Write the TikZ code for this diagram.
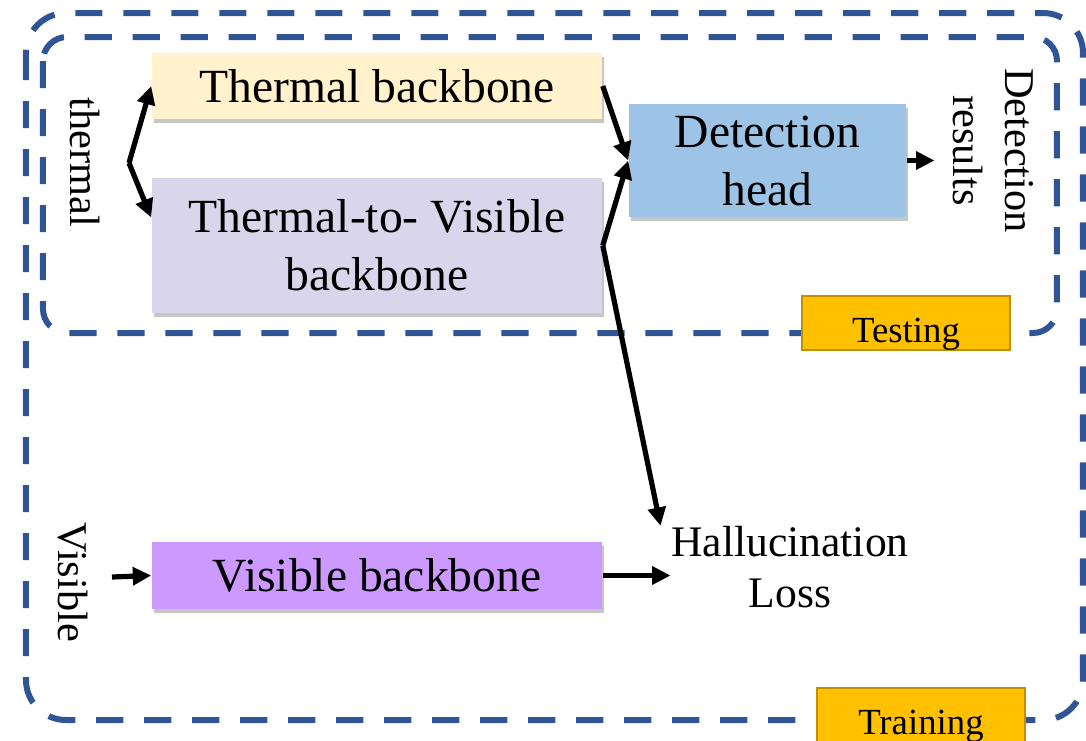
\documentclass[tikz,border=0pt]{standalone}
\usepackage{fontspec}
\setmainfont{Liberation Serif}
\usepackage{xcolor}
\usetikzlibrary{arrows.meta,positioning,shadows}

\definecolor{dashblue}{HTML}{2F5597}
\definecolor{thermalcol}{HTML}{FFF2CC}
\definecolor{transcol}{HTML}{D9D5EA}
\definecolor{headcol}{HTML}{9DC3E6}
\definecolor{visiblecol}{HTML}{CC99FF}
\definecolor{tagcol}{HTML}{FFC000}
\definecolor{tagborder}{HTML}{BF9000}

\begin{document}
\begin{tikzpicture}[x=0.25pt, y=-0.25pt,
    box/.style={rectangle, minimum width=112.5pt, inner sep=0pt, align=center, font=\fontsize{11.9}{14.5}\selectfont, drop shadow={shadow xshift=0.6pt, shadow yshift=-1pt, opacity=0.45}},
    side/.style={rotate=-90, align=center, inner sep=0pt, font=\fontsize{10.6}{13}\selectfont},
    tag/.style={rectangle, draw=tagborder, line width=0.5pt, fill=tagcol, minimum width=52pt, minimum height=13.5pt, text height=9.5pt, text depth=0pt, inner sep=0pt, font=\fontsize{9.2}{11}\selectfont},
    frame/.style={draw=dashblue, line width=1.5pt, dash pattern=on 6.8pt off 5.2pt},
    arr/.style={-{Triangle[length=4.6pt, width=4.4pt]}, line width=1.3pt}
]
\useasboundingbox (0,0) rectangle (1086,741);

\draw[frame, rounded corners=10pt] (26,13) rectangle (1083,720);
\draw[frame, rounded corners=6pt] (43,37) rectangle (1057,333);

\node[box, fill=thermalcol, minimum height=16.5pt] (tb) at (377,86) {Thermal backbone};
\node[box, fill=transcol, minimum height=33.75pt] (tv) at (377,245.5) {Thermal-to- Visible\\backbone};
\node[box, fill=headcol, minimum width=69.25pt, minimum height=28.25pt] (dh) at (767.5,160.5) {Detection\\head};
\node[box, fill=visiblecol, minimum height=16.75pt] (vb) at (377,575.5) {Visible backbone};
\node[align=center, inner sep=0pt, font=\fontsize{10.9}{12.75}\selectfont] (loss) at (790,567.5) {Hallucination\\Loss};
\node[side] (thermal) at (85,162) {thermal};
\node[side] (visible) at (73,582) {Visible};
\node[side] (results) at (993.5,150.5) {Detection\\results};
\node[tag] (testing) at (906,323) {Testing};
\node[tag] (training) at (921,715) {Training};

\coordinate (split) at (129,163);
\coordinate (vin) at (112,577);

\draw[arr] (split) -- (tb.west);
\draw[arr] (split) -- ([yshift=7pt]tv.west);
\draw[arr] (tb.east) -- (dh.west);
\draw[arr] (tv.east) -- (dh.west);
\draw[arr] (tv.east) -- ([xshift=-2.5pt]loss.north west);
\draw[arr, shorten >=4.5pt] (dh.east) -- (dh.east -| results.south);
\draw[arr] (vin) -- (vb.west);
\draw[arr] (vb.east) -- (vb.east -| loss.west);
\end{tikzpicture}
\end{document}
